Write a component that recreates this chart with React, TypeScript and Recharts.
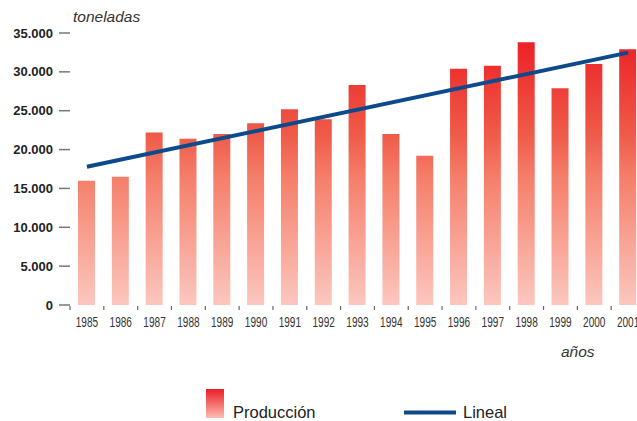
import { ComposedChart, Bar, Line, XAxis, YAxis, Label } from 'recharts';

const YEARS = ['1985', '1986', '1987', '1988', '1989', '1990', '1991', '1992', '1993',
  '1994', '1995', '1996', '1997', '1998', '1999', '2000', '2001'];
const PRODUCCION = [16000, 16500, 22200, 21400, 22000, 23400, 25200, 23900, 28300,
  22000, 19200, 30400, 30800, 33800, 27900, 31000, 32900];
const LINEAL = [17800, null, null, null, null, null, null, null, null,
  null, null, null, null, null, null, null, 32470];
const Y_TICKS = [0, 5000, 10000, 15000, 20000, 25000, 30000, 35000];

const data = YEARS.map((year, i) => ({ year, produccion: PRODUCCION[i], lineal: LINEAL[i] }));

const fmt = (v: number) => String(v).replace(/\B(?=(\d{3})+(?!\d))/g, '.');

const SANS = '"Liberation Sans", Arial, sans-serif';

// year labels are set in a narrow face; squeeze Liberation Sans horizontally
function YearTick(props: any) {
  const { x, y, payload } = props;
  const half = payload.offset > 0 ? payload.offset : 16.9;
  return (
    <g>
      <line x1={x - half} x2={x - half} y1={y + 1} y2={y + 5} stroke="#666" strokeWidth={1.2} />
      <text transform={`translate(${x},${y + 21.5}) scale(0.72,1)`} textAnchor="middle"
        fontFamily={SANS} fontSize={14} fill="#333">
        {payload.value}
      </text>
    </g>
  );
}

export default function App() {
  return (
    <div style={{ position: 'absolute', left: 0, top: 0, width: 637, height: 421, overflow: 'hidden', background: '#fff' }}>
      <ComposedChart width={650} height={421} data={data} margin={{ top: 33, right: 5, bottom: 86, left: 0 }}>
        <defs>
          <linearGradient id="prodGrad" gradientUnits="userSpaceOnUse" x1="0" y1="33" x2="0" y2="305">
            <stop offset="0" stopColor="#ec1c24" />
            <stop offset="0.37" stopColor="#ef5a48" />
            <stop offset="0.54" stopColor="#f5806c" />
            <stop offset="1" stopColor="#fcc7bf" />
          </linearGradient>
        </defs>
        <XAxis dataKey="year" axisLine={false} tickLine={false} tickSize={0} tickMargin={0}
          height={30} interval={0} tick={<YearTick />}>
          <Label content={() => (
            <text x={561} y={357} fontFamily={SANS} fontStyle="italic" fontSize={15.5} fill="#333">años</text>
          )} />
        </XAxis>
        <YAxis domain={[0, 35000]} ticks={Y_TICKS} width={70} axisLine={false}
          tickSize={11} tickMargin={6} tickLine={{ stroke: '#777', strokeWidth: 1.5 }}
          tickFormatter={fmt}
          tick={{ fontFamily: SANS, fontSize: 13, fontWeight: 'bold', fill: '#222' }}>
          <Label content={() => (
            <text x={73} y={22} fontFamily={SANS} fontStyle="italic" fontSize={15.5} fill="#333">toneladas</text>
          )} />
        </YAxis>
        <Bar dataKey="produccion" barSize={17} fill="url(#prodGrad)" isAnimationActive={false} />
        <Line dataKey="lineal" stroke="#0c4a8c" strokeWidth={4} dot={false} connectNulls
          isAnimationActive={false} />
      </ComposedChart>
      <svg style={{ position: 'absolute', left: 0, top: 380 }} width={637} height={41}>
        <defs>
          <linearGradient id="legGrad" x1="0" y1="0" x2="0" y2="1">
            <stop offset="0" stopColor="#ec1c24" />
            <stop offset="1" stopColor="#fbbdb3" />
          </linearGradient>
        </defs>
        <rect x={206} y={9} width={18} height={29} fill="url(#legGrad)" />
        <text x={233} y={38} fontFamily={SANS} fontSize={16.5} fill="#222">Producción</text>
        <line x1={404} x2={456} y1={32.5} y2={32.5} stroke="#0c4a8c" strokeWidth={4} />
        <text x={463} y={38} fontFamily={SANS} fontSize={16.5} fill="#222">Lineal</text>
      </svg>
    </div>
  );
}
